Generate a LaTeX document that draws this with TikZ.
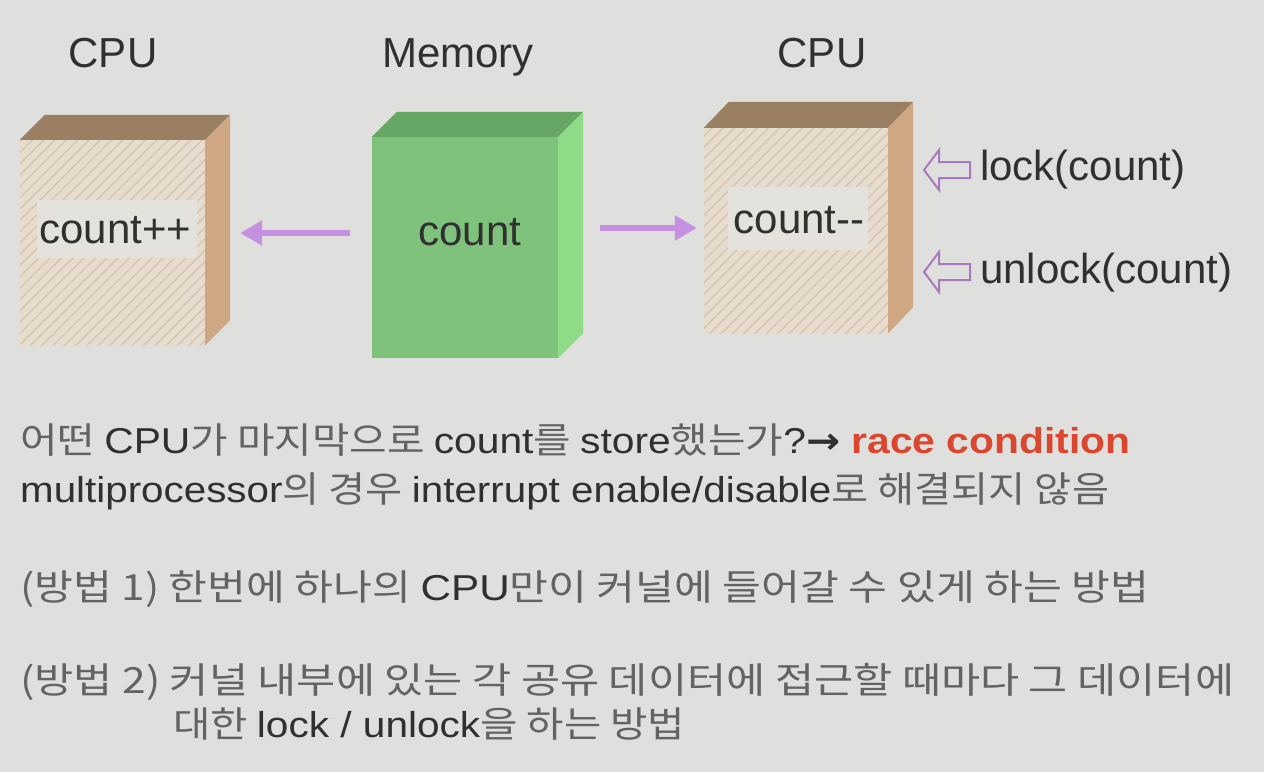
\documentclass[tikz,border=0pt]{standalone}
\usepackage{fontspec}
\usepackage{graphicx}
\setmainfont{Liberation Sans}
\newfontfamily\krfont{Noto Sans CJK KR}
\newfontfamily\djfont{DejaVu Sans}
\usetikzlibrary{patterns.meta,arrows.meta}
\definecolor{bg}{HTML}{DFDFDD}
\definecolor{cputop}{HTML}{9B7F62}
\definecolor{cpuside}{HTML}{CFA783}
\definecolor{cpufront}{HTML}{E7DDCF}
\definecolor{hatch}{HTML}{D6C6B2}
\definecolor{band}{HTML}{E4E2DC}
\definecolor{memfront}{HTML}{7EC27B}
\definecolor{memtop}{HTML}{67A765}
\definecolor{memside}{HTML}{8EDC88}
\definecolor{arrowc}{HTML}{C590E0}
\definecolor{txt}{HTML}{303030}
\definecolor{krgray}{HTML}{636363}
\definecolor{racered}{HTML}{D9472E}
\newsavebox\fitbox
\newcommand\fitw[2]{\sbox\fitbox{#2}\edef\fitwd{\the\wd\fitbox}\scalebox{\fpeval{#1/\fitwd}}[1]{\usebox\fitbox}}
\newcommand\K[1]{{\krfont\color{krgray}#1}}
\tikzset{
  cpufrontbox/.style={minimum width=185pt,minimum height=205pt,inner sep=0pt,fill=cpufront,
    postaction={pattern={Lines[angle=45,distance=8pt,line width=1.5pt]},pattern color=hatch}},
  memfrontbox/.style={minimum width=186pt,minimum height=221pt,inner sep=0pt,fill=memfront},
  bandbox/.style={fill=band,inner sep=0pt},
  boxlbl/.style={anchor=base,text=txt,font=\fontsize{42}{48}\selectfont,inner sep=0pt},
  toplbl/.style={anchor=base,text=txt,font=\fontsize{42}{48}\selectfont,inner sep=0pt},
  sidelbl/.style={anchor=base west,text=txt,font=\fontsize{42}{48}\selectfont,inner sep=0pt},
  bottomline/.style={anchor=base west,text=txt,font=\fontsize{36}{40}\selectfont,inner sep=0pt},
  arr/.style={draw=arrowc,line width=6pt,-{Triangle[length=22pt,width=24pt]}},
  hollow/.style={draw=arrowc!85!black,line width=2pt,fill=bg,line join=miter},
}
\begin{document}
\begin{tikzpicture}[x=1pt,y=-1pt]
\fill[bg] (0,0) rectangle (1264,772);
\useasboundingbox (0,0) rectangle (1264,772);

% top labels
\node[toplbl] (cpu1t) at (113,67) {CPU};
\node[toplbl] (memt) at (458,67) {Memory};
\node[toplbl] (cpu2t) at (822,67) {CPU};

% CPU 1
\node[cpufrontbox] (cpu1) at (112.5,242.5) {};
\fill[cputop] (cpu1.north west) -- ++(25,-25) -- ([shift={(25,-25)}]cpu1.north east) -- (cpu1.north east) -- cycle;
\fill[cpuside] (cpu1.north east) -- ++(25,-25) -- ([shift={(25,-25)}]cpu1.south east) -- (cpu1.south east) -- cycle;
\node[bandbox,minimum width=160pt,minimum height=58pt] (band1) at (117,229) {};
\node[boxlbl] (c1lbl) at (115.5,243) {count++};

% Memory
\node[memfrontbox] (mem) at (465,247.5) {};
\fill[memtop] (mem.north west) -- ++(25,-25) -- ([shift={(25,-25)}]mem.north east) -- (mem.north east) -- cycle;
\fill[memside] (mem.north east) -- ++(25,-25) -- ([shift={(25,-25)}]mem.south east) -- (mem.south east) -- cycle;
\node[boxlbl] (memlbl) at (470,245) {count};

% CPU 2
\node[cpufrontbox,minimum width=184pt] (cpu2) at (796,230.5) {};
\fill[cputop] (cpu2.north west) -- ++(25,-26) -- ([shift={(25,-26)}]cpu2.north east) -- (cpu2.north east) -- cycle;
\fill[cpuside] (cpu2.north east) -- ++(25,-26) -- ([shift={(25,-26)}]cpu2.south east) -- (cpu2.south east) -- cycle;
\node[bandbox,minimum width=140pt,minimum height=63pt] (band2) at (798,218.5) {};
\node[boxlbl] (c2lbl) at (799,233) {count\mbox{-}\mbox{-}};

% arrows
\draw[arr] ([shift={(-22,-14.5)}]mem.west) -- ([shift={(35,-9.5)}]cpu1.east);
\draw[arr] ([shift={(42,-19.5)}]mem.east) -- ([shift={(-7,-2.5)}]cpu2.west);

% lock / unlock
\node[sidelbl] (lock) at (980,180) {lock(count)};
\node[sidelbl] (unlock) at (980,283) {unlock(count)};
\draw[hollow] ([shift={(-10,-18)}]lock.base west) -- ++(-31,0) -- ++(0,-12) -- ++(-15,20) -- ++(15,20) -- ++(0,-12) -- ++(31,0) -- cycle;
\draw[hollow] ([shift={(-10,-19)}]unlock.base west) -- ++(-31,0) -- ++(0,-12) -- ++(-15,20) -- ++(15,20) -- ++(0,-12) -- ++(31,0) -- cycle;

% bottom text
\node[bottomline] (l1) at (20,453) {\fitw{1110}{\K{어떤 }CPU\K{가 마지막으로 }count\K{를 }store\K{했는가}?{\djfont\bfseries →} {\color{racered}\bfseries race condition}}};
\node[bottomline] (l2) at (20,502) {\fitw{1089}{multiprocessor\K{의 경우 }interrupt enable/disable\K{로 해결되지 않음}}};
\node[bottomline] (l3) at (20,600) {\fitw{1129}{\K{(방법 1) 한번에 하나의 }CPU\K{만이 커널에 들어갈 수 있게 하는 방법}}};
\node[bottomline] (l4) at (20,693) {\fitw{1214}{\K{(방법 2) 커널 내부에 있는 각 공유 데이터에 접근할 때마다 그 데이터에}}};
\node[bottomline] (l5) at (173,737) {\fitw{512}{\K{대한 }lock / unlock\K{을 하는 방법}}};
\end{tikzpicture}
\end{document}
